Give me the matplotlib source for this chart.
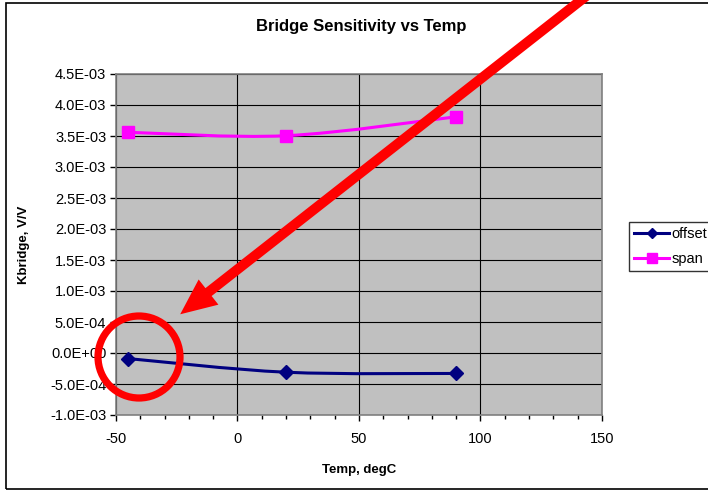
import matplotlib
matplotlib.use("Agg")
import matplotlib.pyplot as plt
from matplotlib.path import Path
from matplotlib.patches import PathPatch, Rectangle, Ellipse, FancyArrowPatch
from matplotlib.lines import Line2D
from matplotlib.ticker import MultipleLocator, FuncFormatter

plt.rcParams['font.family'] = ['Liberation Sans', 'DejaVu Sans']
plt.rcParams['axes.unicode_minus'] = False

# data
temps = [-45, 20, 90]
offset_vals = [-0.09e-3, -0.31e-3, -0.33e-3]
span_vals = [3.56e-3, 3.505e-3, 3.81e-3]

series_names = ["offset", "span"]
series_colors = ["#000080", "#FF00FF"]
series_markers = ["D", "s"]


def smooth_path(xs, ys):
    # Excel style smoothed line: catmull-rom turned into bezier segments
    pts = list(zip(xs, ys))
    verts = [pts[0]]
    codes = [Path.MOVETO]
    n = len(pts)
    for i in range(n - 1):
        p0 = pts[i - 1] if i > 0 else pts[i]
        p1 = pts[i]
        p2 = pts[i + 1]
        p3 = pts[i + 2] if i + 2 < n else pts[i + 1]
        c1 = (p1[0] + (p2[0] - p0[0]) / 6, p1[1] + (p2[1] - p0[1]) / 6)
        c2 = (p2[0] - (p3[0] - p1[0]) / 6, p2[1] - (p3[1] - p1[1]) / 6)
        verts += [c1, c2, p2]
        codes += [Path.CURVE4] * 3
    return Path(verts, codes)


W, H = 708, 491
fig = plt.figure(figsize=(W / 100, H / 100), dpi=100)
fig.patch.set_facecolor("white")

# outer chart border
fig.patches.append(Rectangle((6 / W, 2 / H), 1.0, 486 / H, transform=fig.transFigure,
                             fill=False, edgecolor="black", lw=1.2, zorder=0))

ax = fig.add_axes([116 / W, 76 / H, 486 / W, 341 / H])
ax.set_facecolor("#C0C0C0")
ax.set_xlim(-50, 150)
ax.set_ylim(-1.0e-3, 4.5e-3)
ax.xaxis.set_major_locator(MultipleLocator(50))
ax.xaxis.set_minor_locator(MultipleLocator(10))
ax.yaxis.set_major_locator(MultipleLocator(0.5e-3))
ax.yaxis.set_major_formatter(FuncFormatter(lambda v, p: "%.1E" % v))
ax.grid(True, which="major", color="black", lw=0.8)
ax.set_axisbelow(True)
for s in ["top", "right", "left", "bottom"]:
    ax.spines[s].set_color("#808080")
    ax.spines[s].set_linewidth(1.2)
ax.tick_params(which="major", direction="out", length=4, width=1, color="black",
               labelsize=10.5, pad=3)
ax.tick_params(axis="x", which="major", pad=8)
ax.tick_params(axis="x", which="minor", direction="out", length=3, width=1, color="black")
ax.tick_params(axis="y", which="minor", length=0)

handles = []
for vals, name, col, mk in zip([offset_vals, span_vals], series_names, series_colors, series_markers):
    ax.add_patch(PathPatch(smooth_path(temps, vals), fill=False, edgecolor=col, lw=2.2, zorder=3))
    ms = 7 if mk == "D" else 9
    ax.plot(temps, vals, linestyle="none", marker=mk, color=col, markersize=ms, zorder=4)
    handles.append(Line2D([], [], color=col, lw=2.2, marker=mk, markersize=ms - 2, label=name))

ax.set_xlabel("Temp, degC", fontsize=9.5, fontweight="bold")
ax.xaxis.set_label_coords(0.5, -0.145)
ax.set_ylabel("Kbridge, V/V", fontsize=9.5, fontweight="bold")
ax.yaxis.set_label_coords(-0.177, 0.5)

fig.text(361 / W, 1 - 27 / H, "Bridge Sensitivity vs Temp", ha="center", va="center",
         fontsize=12, fontweight="bold")

leg = fig.legend(handles=handles, loc="upper left", bbox_to_anchor=(629 / W, 1 - 222 / H),
                 fontsize=10.5, frameon=True, fancybox=False, handlelength=2.4,
                 handletextpad=0.15, borderpad=0.35, labelspacing=0.75, borderaxespad=0)
leg.get_frame().set_edgecolor("black")
leg.get_frame().set_linewidth(1)

# red annotation: arrow and circle
arrow = FancyArrowPatch((594 / W, 1 + 10 / H), (178 / W, 1 - 316 / H), transform=fig.transFigure,
                        arrowstyle="simple,head_width=3.2,head_length=3.6,tail_width=1.0",
                        mutation_scale=7.2, color="#FF0000", lw=0, zorder=5)
fig.patches.append(arrow)
fig.patches.append(Ellipse((139 / W, 1 - 357 / H), 82 / W, 82 / H, transform=fig.transFigure,
                           fill=False, edgecolor="#FF0000", lw=5.2, zorder=5))

fig.savefig("out.png", dpi=100)
